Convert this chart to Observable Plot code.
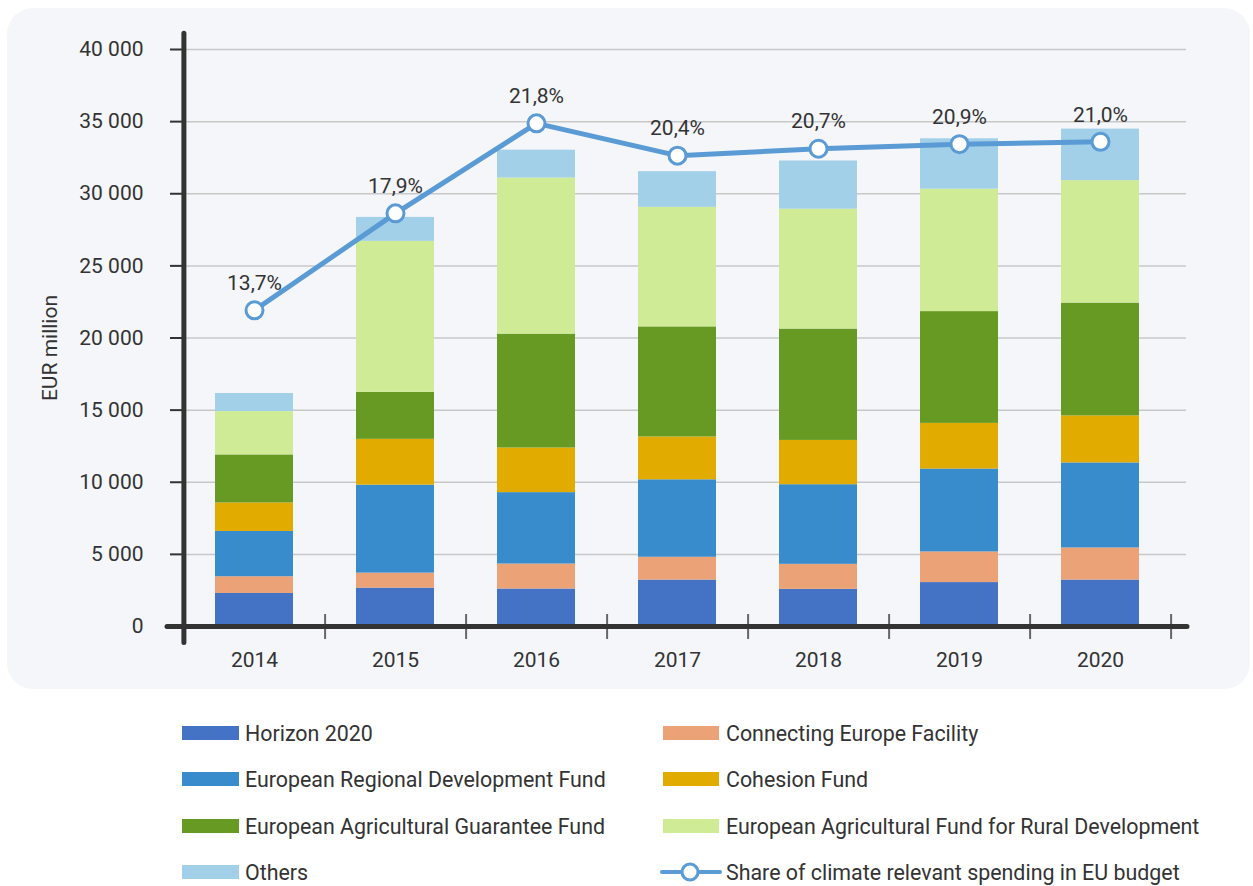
<!DOCTYPE html>
<html>
<head>
<meta charset="utf-8">
<script src="https://cdn.jsdelivr.net/npm/d3@7"></script>
<script src="https://cdn.jsdelivr.net/npm/@observablehq/plot@0.6"></script>
<style>
  body { margin: 0; background: #ffffff; font-family: Roboto, "Liberation Sans", sans-serif; }
  #wrap { position: relative; width: 1253px; height: 886px; overflow: hidden; }
  #panel { position: absolute; left: 7px; top: 8px; width: 1243px; height: 681px; background: #f4f6fa; border-radius: 26px; }
  #chart { position: absolute; left: 0; top: 0; }
  .leg { position: absolute; height: 30px; display: flex; align-items: center; font-size: 21.4px; color: #333; white-space: nowrap; }
  .sw { height: 14px; }
</style>
</head>
<body>
<div id="wrap">
  <div id="panel"></div>
  <div id="chart"></div>
  <div id="legend"></div>
</div>
<script>
// ---- data ----
const years = ["2014", "2015", "2016", "2017", "2018", "2019", "2020"];
const seriesNames = [
  "Horizon 2020",
  "Connecting Europe Facility",
  "European Regional Development Fund",
  "Cohesion Fund",
  "European Agricultural Guarantee Fund",
  "European Agricultural Fund for Rural Development",
  "Others"
];
const seriesColors = ["#4472c4", "#eba276", "#398ccc", "#e2ab00", "#679a22", "#d0eb96", "#a2d0e8"];
const horizon  = [2290, 2660, 2600, 3220, 2575, 3045, 3220];
const cef      = [1160, 1040, 1730, 1580, 1735, 2125, 2225];
const erdf     = [3140, 6100, 4950, 5370, 5520, 5745, 5895];
const cohesion = [1975, 3175, 3095, 2970, 3070, 3165, 3260];
const eagf     = [3330, 3255, 7895, 7630, 7720, 7750, 7820];
const eafrd    = [3005, 10470, 10820, 8290, 8310, 8490, 8490];
const others   = [1250, 1660, 1930, 2470, 3340, 3490, 3570];
const shareName = "Share of climate relevant spending in EU budget";
const share    = [13.7, 17.9, 21.8, 20.4, 20.7, 20.9, 21.0];
const tickValues = [0, 5000, 10000, 15000, 20000, 25000, 30000, 35000, 40000];
const yLabel = "EUR million";
const shareMax = 25; // secondary (hidden) axis: 0–25 % spans 0–40 000

// ---- build tables ----
const seriesValues = [horizon, cef, erdf, cohesion, eagf, eafrd, others];
const rows = years.flatMap((yr, i) => seriesNames.map((s, j) => ({ year: yr, series: s, value: seriesValues[j][i] })));
const lineRows = years.map((yr, i) => ({ year: yr, share: share[i] }));
const yMax = tickValues[tickValues.length - 1];
const shareY = d => d.share * yMax / shareMax;
const fmtNum = d => d3.format(",")(d).replace(/,/g, " ");
const fmtPct = d => d3.format(".1f")(d.share).replace(".", ",") + "%";
const lineColor = "#5b9bd5";
const half = 70.6;

const chart = Plot.plot({
  width: 1253,
  height: 700,
  marginLeft: 182,
  marginRight: 67,
  marginTop: 49,
  marginBottom: 74,
  style: { background: "transparent", fontFamily: "Roboto, sans-serif", fontSize: "21px", color: "#333", overflow: "visible" },
  x: { type: "band", domain: years, range: [182.5, 1171], paddingInner: 0.4476, paddingOuter: 0.2238 },
  y: { domain: [0, yMax] },
  color: { domain: seriesNames, range: seriesColors },
  marks: [
    Plot.ruleY(tickValues.filter(d => d > 0), { stroke: "#c8c8c8", strokeWidth: 1.5 }),
    Plot.barY(rows, { x: "year", y: "value", fill: "series" }),
    Plot.axisY({ ticks: tickValues, tickFormat: fmtNum, tickSize: 12, tickPadding: 27, stroke: "#333", strokeWidth: 2, fill: "#333", label: null, fontSize: 21 }),
    Plot.axisX({ tickSize: 0, tickPadding: 26, fill: "#333", label: null, fontSize: 21 }),
    Plot.ruleX(years, { x: d => d, dx: half, y1: 830, y2: -900, stroke: "#666", strokeWidth: 2 }),
    Plot.ruleY([0], { stroke: "#333", strokeWidth: 5, insetLeft: -15, insetRight: -1, strokeLinecap: "round" }),
    Plot.ruleX([years[0]], { x: d => d, dx: -half, y1: 41100, y2: -1150, stroke: "#333", strokeWidth: 5, strokeLinecap: "round" }),
    Plot.line(lineRows, { x: "year", y: shareY, stroke: lineColor, strokeWidth: 5 }),
    Plot.dot(lineRows, { x: "year", y: shareY, r: 8.5, fill: "white", stroke: lineColor, strokeWidth: 3 }),
    Plot.text(lineRows, { x: "year", y: shareY, text: fmtPct, dy: -27, fontSize: 21, fill: "#333" }),
    Plot.text([yLabel], { frameAnchor: "left", rotate: -90, dx: -132, dy: 10, textAnchor: "middle", fontSize: 21, fill: "#333" })
  ]
});
document.getElementById("chart").appendChild(chart);

// ---- legend ----
const legend = document.getElementById("legend");
const items = seriesNames.map((s, j) => ({ name: s, color: seriesColors[j], type: "bar" }));
items.push({ name: shareName, color: lineColor, type: "line" });
const rowY = [733, 779, 826, 872];
items.forEach((it, k) => {
  const col = k % 2, row = Math.floor(k / 2);
  const el = document.createElement("div");
  el.className = "leg";
  el.style.top = (rowY[row] - 15) + "px";
  if (it.type === "bar") {
    el.style.left = (col === 0 ? 182 : 663) + "px";
    const sw = document.createElement("div");
    sw.className = "sw";
    sw.style.width = (col === 0 ? 57 : 56) + "px";
    sw.style.marginRight = (col === 0 ? 6 : 7) + "px";
    sw.style.background = it.color;
    el.appendChild(sw);
  } else {
    el.style.left = "660px";
    const ns = "http://www.w3.org/2000/svg";
    const svg = document.createElementNS(ns, "svg");
    svg.setAttribute("width", 62); svg.setAttribute("height", 24);
    svg.style.marginRight = "4px";
    const ln = document.createElementNS(ns, "line");
    ln.setAttribute("x1", 2); ln.setAttribute("x2", 60); ln.setAttribute("y1", 12); ln.setAttribute("y2", 12);
    ln.setAttribute("stroke", it.color); ln.setAttribute("stroke-width", 4); ln.setAttribute("stroke-linecap", "round");
    const c = document.createElementNS(ns, "circle");
    c.setAttribute("cx", 30); c.setAttribute("cy", 12); c.setAttribute("r", 8);
    c.setAttribute("fill", "white"); c.setAttribute("stroke", it.color); c.setAttribute("stroke-width", 3);
    svg.appendChild(ln); svg.appendChild(c);
    el.appendChild(svg);
  }
  const t = document.createElement("span");
  t.textContent = it.name;
  el.appendChild(t);
  legend.appendChild(el);
});
</script>
</body>
</html>
